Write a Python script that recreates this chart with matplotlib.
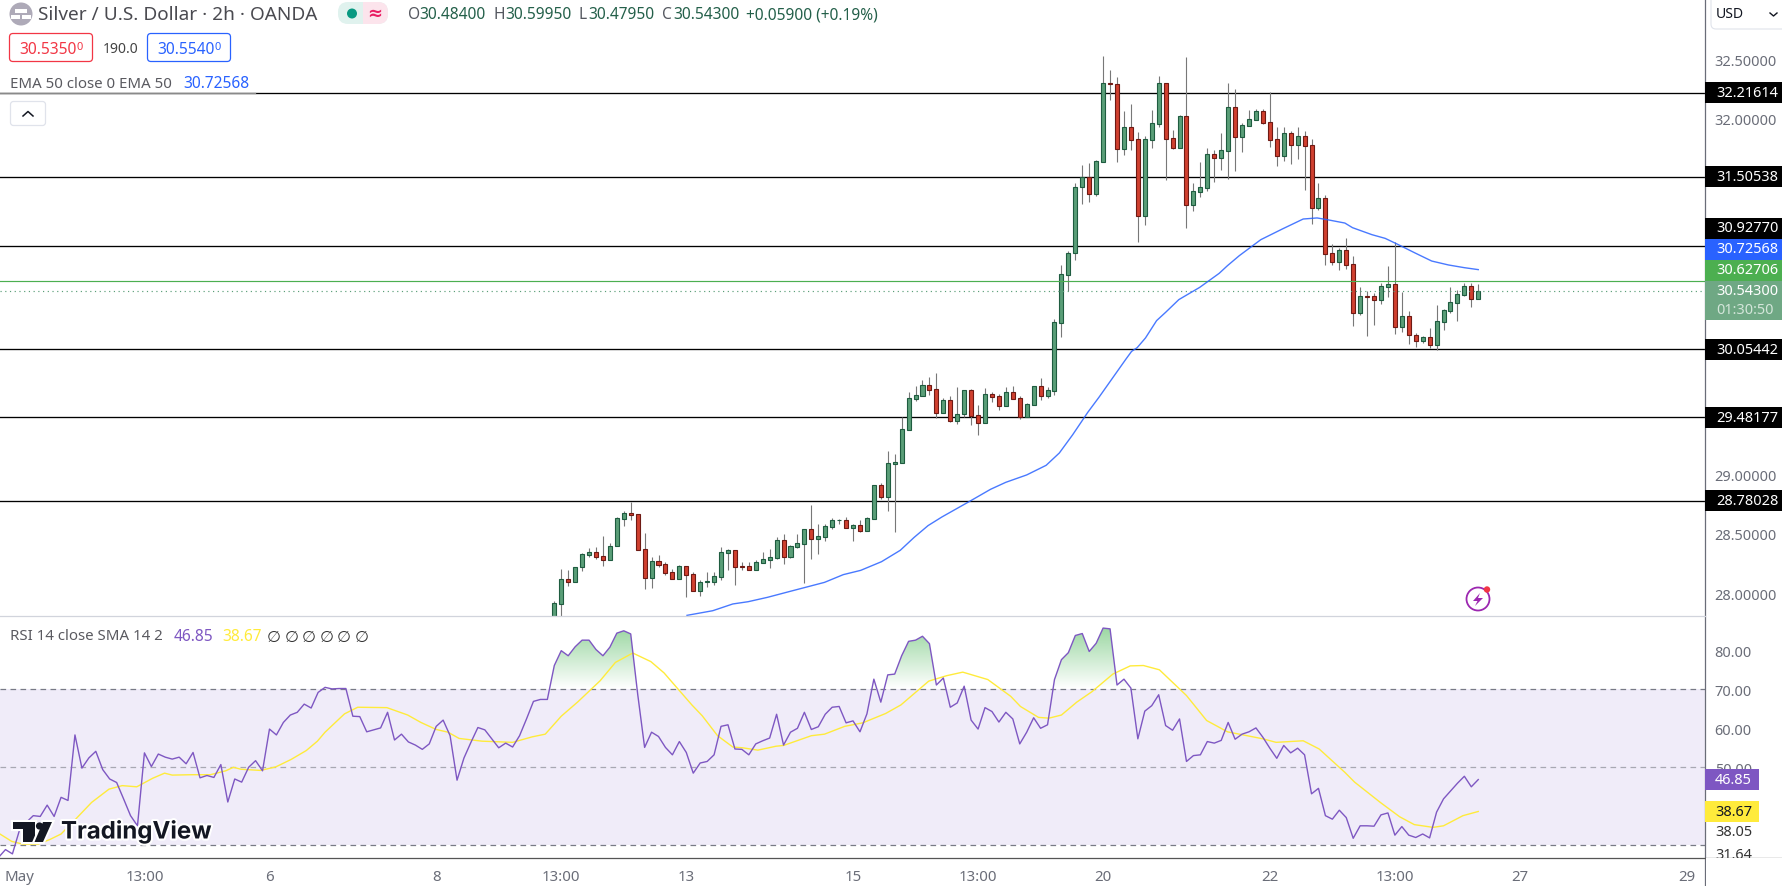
import numpy as np
import matplotlib
matplotlib.use("Agg")
import matplotlib.pyplot as plt
from matplotlib.patches import Rectangle, FancyBboxPatch, Circle, Polygon
from matplotlib.path import Path
import matplotlib.patheffects as pe

plt.rcParams['font.family'] = ['Noto Sans', 'DejaVu Sans']

# ---------- candles (2h bars) ----------
opens = [27.75,27.912,28.117,28.097,28.218,28.325,28.344,28.310,28.282,28.395,28.628,28.673,28.664,28.369,28.131,28.268,28.243,28.176,28.122,28.226,
 28.159,28.021,28.097,28.097,28.139,28.341,28.361,28.226,28.226,28.198,28.257,28.282,28.299,28.445,28.308,28.392,28.417,28.538,28.459,28.476,
 28.560,28.614,28.614,28.552,28.572,28.527,28.628,28.909,28.813,29.091,29.099,29.377,29.639,29.664,29.751,29.717,29.521,29.625,29.453,29.507,
 29.709,29.498,29.436,29.675,29.658,29.580,29.692,29.641,29.484,29.588,29.742,29.664,29.706,30.279,30.683,30.863,31.419,31.506,31.366,31.635,
 32.295,32.287,31.745,31.924,31.823,31.180,31.821,31.955,32.295,31.832,31.753,32.017,31.273,31.382,31.416,31.697,31.669,31.728,32.093,31.846,
 31.938,31.989,32.059,31.966,31.823,31.686,31.874,31.778,31.849,31.773,31.248,31.326,30.863,30.793,30.888,30.770,30.363,30.504,30.501,30.473,
 30.582,30.602,30.245,30.332,30.172,30.127,30.155,30.094,30.287,30.380,30.447,30.515,30.585,30.481]
closes = [27.915,28.117,28.097,28.218,28.327,28.344,28.308,28.282,28.395,28.631,28.673,28.661,28.367,28.131,28.268,28.240,28.173,28.122,28.226,28.156,
 28.021,28.091,28.100,28.142,28.344,28.361,28.223,28.223,28.198,28.260,28.285,28.302,28.445,28.308,28.395,28.420,28.538,28.459,28.479,28.563,
 28.614,28.616,28.552,28.572,28.527,28.631,28.909,28.813,29.094,29.102,29.380,29.641,29.667,29.751,29.714,29.521,29.625,29.453,29.507,29.709,
 29.495,29.436,29.675,29.655,29.580,29.692,29.639,29.484,29.591,29.742,29.664,29.709,30.282,30.686,30.863,31.419,31.506,31.366,31.638,32.295,
 32.292,31.745,31.924,31.821,31.180,31.823,31.958,32.295,31.829,31.753,32.017,31.273,31.385,31.419,31.697,31.669,31.731,32.093,31.846,31.941,
 31.992,32.059,31.964,31.821,31.686,31.874,31.778,31.849,31.770,31.248,31.326,30.860,30.793,30.888,30.768,30.363,30.501,30.498,30.473,30.585,
 30.602,30.245,30.332,30.172,30.127,30.155,30.094,30.290,30.383,30.450,30.518,30.585,30.481,30.543]
highs = [27.931,28.204,28.195,28.218,28.339,28.378,28.389,28.482,28.420,28.639,28.689,28.771,28.664,28.507,28.302,28.322,28.260,28.204,28.237,28.226,
 28.176,28.111,28.176,28.176,28.389,28.369,28.361,28.260,28.260,28.277,28.347,28.372,28.473,28.499,28.406,28.499,28.538,28.743,28.583,28.583,
 28.633,28.625,28.642,28.583,28.616,28.639,28.909,28.925,29.198,29.170,29.481,29.692,29.745,29.793,29.818,29.855,29.641,29.661,29.737,29.714,
 29.720,29.585,29.728,29.692,29.681,29.737,29.745,29.658,29.599,29.742,29.813,29.734,30.310,30.765,30.883,31.453,31.607,31.624,31.649,32.525,
 32.407,32.348,32.062,32.121,31.885,31.851,32.070,32.357,32.295,31.902,32.028,32.517,31.456,31.632,31.750,31.733,31.877,32.298,32.247,31.958,
 32.070,32.079,32.079,32.219,31.924,31.924,31.891,31.924,31.893,31.826,31.456,31.354,30.942,30.905,30.992,30.838,30.579,30.546,30.529,30.613,
 30.756,30.956,30.537,30.377,30.192,30.164,30.234,30.428,30.394,30.579,30.551,30.613,30.613,30.605]
lows = [27.72,27.78,28.061,28.097,28.190,28.308,28.291,28.229,28.282,28.395,28.569,28.616,28.367,28.035,28.044,28.223,28.153,28.122,28.122,27.968,
 28.021,27.979,28.052,28.069,28.111,28.195,28.069,28.198,28.198,28.198,28.257,28.212,28.288,28.246,28.296,28.381,28.086,28.288,28.330,28.442,
 28.541,28.586,28.546,28.440,28.518,28.527,28.628,28.793,28.692,28.515,29.099,29.377,29.622,29.664,29.670,29.479,29.521,29.445,29.428,29.481,
 29.417,29.335,29.436,29.611,29.543,29.580,29.639,29.470,29.484,29.588,29.627,29.644,29.670,30.161,30.543,30.810,31.279,31.295,31.349,31.635,
 32.155,31.632,31.691,31.733,30.961,31.102,31.750,31.927,31.484,31.745,31.753,31.079,31.220,31.338,31.388,31.464,31.565,31.489,31.557,31.717,
 31.938,31.989,31.952,31.759,31.599,31.641,31.616,31.658,31.397,31.110,31.228,30.765,30.765,30.723,30.731,30.251,30.344,30.167,30.259,30.436,
 30.495,30.183,30.197,30.099,30.074,30.110,30.066,30.052,30.217,30.363,30.293,30.506,30.411,30.481]

# ---------- EMA 50 (bar position, value) ----------
ema_bar = [19.1,22.8,25.7,27.9,30.7,34,38.9,41.6,44.1,47.1,49.8,51.8,53.8,55.8,59.8,62.8,65,68,70.8,72.7,74.6,76.8,78.4,
 82.3,83.1,83.9,85.1,86.7,88,89.9,92.9,95.7,96.9,98.6,101.7,104.8,107.8,109.8,111.2,113.8,114.9,117.7,119.6,121.5,123.9,126.3,128.7,131,133]
ema_val = [27.813,27.852,27.909,27.928,27.965,28.016,28.091,28.156,28.192,28.265,28.361,28.470,28.569,28.642,28.774,28.875,28.934,28.996,29.077,29.181,29.333,29.524,29.650,
 29.973,30.037,30.068,30.150,30.296,30.366,30.473,30.576,30.694,30.759,30.843,30.978,31.068,31.152,31.161,31.147,31.118,31.079,31.020,30.989,30.936,30.866,30.798,30.765,30.742,30.72568]

# ---------- RSI 14, first value is 80 bars before the first candle ----------
rsi_first_bar = -80
rsi = [26.9,28.9,27.8,33.8,35.9,37.6,37.4,40.3,37.4,42.3,41.5,58.3,49.8,52.4,54.1,49.4,47.0,46.1,41.9,37.6,
 35.0,53.7,50.2,53.4,52.6,52.1,52.6,50.9,53.8,47.3,47.9,47.4,50.7,41.1,47.0,46.2,50.0,51.7,49.1,59.8,
 58.3,61.5,63.4,64.1,66.2,65.2,69.2,70.5,70.1,70.2,70.2,63.1,63.0,59.1,59.6,60.1,64.1,57.0,58.5,56.5,
 55.7,54.6,56.0,60.5,62.1,58.1,46.7,52.4,56.4,60.2,59.6,57.3,55.0,56.2,55.2,58.1,62.4,66.9,67.4,67.4,
 76.1,79.9,78.6,80.9,82.6,82.6,80.2,78.6,80.8,84.4,85.0,84.2,68.8,55.1,59.0,57.9,55.1,53.2,56.6,53.8,
 48.5,51.1,51.5,53.2,60.5,60.9,54.7,54.6,53.2,56.0,56.8,57.5,63.6,55.7,59.0,60.0,64.1,59.7,60.4,63.6,
 65.4,65.6,61.4,61.9,59.1,63.7,72.6,66.7,73.7,73.9,78.6,82.3,82.6,83.6,81.7,71.1,72.9,65.4,66.5,70.8,
 62.1,59.8,65.3,64.3,61.6,64.1,62.4,56.0,59.0,62.7,60.0,60.9,72.5,77.6,79.4,83.8,84.3,79.7,81.8,85.7,
 85.5,71.1,72.6,70.3,57.3,64.4,65.8,68.6,60.7,59.5,62.4,51.5,53.0,53.2,56.6,56.2,56.9,61.5,57.2,58.5,
 59.1,60.1,57.7,54.9,52.3,55.6,53.7,54.9,53.2,43.2,44.6,37.6,36.7,39.0,37.1,31.8,35.0,35.0,34.9,37.8,
 38.3,32.6,34.8,32.6,32.0,32.9,31.9,38.5,41.9,43.9,45.9,47.7,45.0,46.85]

sma_pos = [0.2,1.9,3.5,5.7,7.4,9,11.2,13.4,15.9,17.8,19.9,22.2,23.9,25,27.8,30.5,32.7,33.8,34.9,37.7,39.9,42.1,44.3,45.9,47,49.8,51.7,55.9,58.9,60.8,63,64.7,66.3,69.6,74,76.8,78.7,81,83.4,
 86.6,88.8,91.3,93.9,95.8,97.6,99.8,101.3,103.5,105.7,107.1,109.3,111.9,113,117,118.9,121.8,124.4,127.7,129.9,133.9,136.5,138.8,142.4,145.7,147.1,149.7,151.2,153,155.2,157.4,160.4,162.9,164.8,167.1,171,173.9,176.9,182,183.9,187.8,190.1,193.8,195.2,198.9,201.7,
 203.8,206.5,208,210.8,213]
sma_val = [32.9,31.0,30.3,30.3,31.5,32.9,36.9,41.0,44.4,45.3,45.0,47.2,48.5,48.0,48.1,48.1,49.1,50.0,49.5,49.2,50.1,52.0,54.3,56.7,59.0,63.7,65.4,65.3,63.4,61.5,59.7,59.0,57.4,56.7,56.4,57.8,58.5,63.1,66.8,
 72.2,76.9,79.3,77.1,74.2,70.5,66.0,63.2,58.1,55.2,55.0,54.4,55.4,55.6,58.1,58.5,60.5,61.4,63.8,66.0,72.1,73.5,74.4,72.5,68.2,65.6,62.8,62.6,63.4,66.7,69.4,73.9,76.0,76.1,75.0,68.4,62.0,59.1,57.3,56.4,56.8,54.7,48.7,46.2,41.0,37.3,
 35.3,34.6,35.0,37.6,38.67]

# ---------- levels, ticks, labels ----------
levels = [32.21614, 31.50538, 30.92770, 30.05442, 29.48177, 28.78028]
level_labels = ['32.21614', '31.50538', '30.92770', '30.05442', '29.48177', '28.78028']
ma_now = 30.72568
green_level = 30.62706
last_close = 30.54300
price_ticks = [28.0, 28.5, 29.0, 32.0, 32.5]
rsi_ticks = [80, 70, 60, 50]
rsi_bands = [70, 50, 30]
x_ticks = [-77, -59, -41, -17, 1, 19, 43, 61, 79, 103, 121, 139, 163]
x_labels = ['May', '13:00', '6', '8', '13:00', '13', '15', '13:00', '20', '22', '13:00', '27', '29']

W, H = 1783, 887
PLOT_R, SPLIT, BOTTOM = 1705, 616.5, 859
X0 = 554.3; DX = 6.947
def px(p):  # font px to pt at dpi 100
    return p * 0.72

fig = plt.figure(figsize=(W/100, H/100), dpi=100, facecolor='white')
ax = fig.add_axes([0, 1-SPLIT/H, PLOT_R/W, SPLIT/H])
ar = fig.add_axes([0, 1-BOTTOM/H, PLOT_R/W, (BOTTOM-SPLIT)/H])
xlim = ((0-X0)/DX, (PLOT_R-X0)/DX)
for a in (ax, ar):
    a.set_xlim(*xlim)
    for s in a.spines.values():
        s.set_visible(False)
ax.set_ylim(32.21614-(SPLIT-93.7)/118.7, 32.21614+93.7/118.7)
ar.set_ylim(70-(BOTTOM-690.3)/3.9, 70+(690.3-SPLIT)/3.9)

# candles
o, c, h, l = map(np.array, (opens, closes, highs, lows))
bars = np.arange(len(o))
up = c >= o
UPF, UPE, DNF, DNE = '#5a9e78', '#1f5c40', '#d0402f', '#6e1a14'
ax.vlines(bars, l, h, color='#787878', lw=0.8, zorder=3)
ax.bar(bars[up], (c-o)[up], bottom=o[up], width=0.58, color=UPF, edgecolor=UPE, lw=0.8, zorder=4)
ax.bar(bars[~up], (o-c)[~up], bottom=c[~up], width=0.58, color=DNF, edgecolor=DNE, lw=0.8, zorder=4)

# levels
for v in levels:
    ax.axhline(v, color='black', lw=0.95, zorder=2)
ax.axhline(green_level, color='#4caf50', lw=0.85, zorder=5)
ax.axhline(last_close, color='#5a9e78', lw=0.85, ls=(0, (1, 3)), zorder=5)
ax.plot(ema_bar, ema_val, color='#2962ff', lw=1.0, alpha=0.85, zorder=6)

# price axis
ax.yaxis.tick_right()
ax.set_yticks(price_ticks)
ax.set_yticklabels([f'{t:.5f}' for t in price_ticks], fontsize=px(14.5), color='#6a6d78')
ax.tick_params(axis='y', length=0, pad=7)
ax.set_xticks([])

# RSI pane
rx = np.arange(len(rsi)) + rsi_first_bar
rv = np.array(rsi)
ar.axhspan(rsi_bands[2], rsi_bands[0], color='#f0ecf9', lw=0, zorder=0)
for v in rsi_bands:
    ar.axhline(v, color='#787b86' if v != 50 else '#a8a8b2', lw=0.9, ls=(0, (4.5, 3.5)), zorder=1)
grad = np.ones((64, 1, 4))
grad[..., 0] = 0.60; grad[..., 1] = 0.84; grad[..., 2] = 0.63
grad[:, 0, 3] = np.linspace(0, 1, 64)
poly = ar.fill_between(rx, 70, rv, where=rv > 70, interpolate=True, alpha=0)
clip = Path.make_compound_path(*poly.get_paths())
im = ar.imshow(grad, extent=(xlim[0], xlim[1], 70, 86), origin='lower', aspect='auto', zorder=1, interpolation='bilinear')
im.set_clip_path(clip, ar.transData)
ar.set_xlim(*xlim)
ar.set_ylim(70-(BOTTOM-690.3)/3.9, 70+(690.3-SPLIT)/3.9)
ar.plot(rx, rv, color='#7e57c2', lw=1.0, zorder=3)
ar.plot(np.array(sma_pos)+rsi_first_bar, sma_val, color='#ffeb3b', lw=1.0, zorder=2.5)
ar.yaxis.tick_right()
ar.set_yticks(rsi_ticks)
ar.set_yticklabels([f'{t:.2f}' for t in rsi_ticks], fontsize=px(14.5), color='#6a6d78')
ar.tick_params(axis='y', length=0, pad=7)
ar.set_xticks(x_ticks)
ar.set_xticklabels(x_labels, fontsize=px(15), color='#6a6d78')
ar.tick_params(axis='x', length=0, pad=8)
ar.get_xticklabels()[0].set_fontweight('bold')

# overlay in pixel coordinates: TradingView interface items
ov = fig.add_axes([0, 0, 1, 1], zorder=20)
ov.set_xlim(0, W); ov.set_ylim(H, 0); ov.axis('off'); ov.patch.set_alpha(0)

ov.plot([PLOT_R, PLOT_R], [0, H], color='#6a6d78', lw=0.9)
ov.plot([0, W], [BOTTOM, BOTTOM], color='#555555', lw=0.9)
ov.plot([0, PLOT_R], [SPLIT, SPLIT], color='#d1d4dc', lw=0.9)
ov.plot([0, 255], [93.7, 93.7], color='#8a8a8a', lw=0.95)

def ybox(y0, y1, color, x0=PLOT_R+0.5, x1=W):
    ov.add_patch(Rectangle((x0, y0), x1-x0, y1-y0, color=color, lw=0, zorder=5))

def ytext(y, s, color='white', fw='bold', x=1716, size=14.5):
    ov.text(x, y, s, color=color, fontsize=px(size), fontweight=fw, va='center', ha='left', zorder=6)

for y, s in zip([93.7, 177.5, 229, 350.5, 418.5, 501.5], level_labels):
    ybox(y-10.5, y+10.5, 'black')
    ytext(y, s)
ybox(240, 260.5, '#2962ff'); ytext(250, f'{ma_now:.5f}')
ybox(260.5, 281.5, '#4caf50'); ytext(271, f'{green_level:.5f}')
ybox(281.5, 321, '#6fa884'); ytext(292, f'{last_close:.5f}', fw='normal')
ytext(311, '01:30:50', color='#d4e6da', fw='normal')
ybox(770, 791, '#7e57c2', x1=1759); ytext(780.5, '46.85', x=1715)
ybox(802, 823, '#ffeb3b', x1=1759); ytext(812.5, '38.67', color='#131722', fw='normal', x=1715)
ytext(833, '38.05', color='#333333', fw='normal', x=1715)
ov.text(1715, 856, '31.64', color='#333333', fontsize=px(14.5), va='center', clip_on=True)
ov.add_patch(Rectangle((1706, 859.5), 77, 28, color='white', lw=0, zorder=4))

# USD selector
ov.add_patch(FancyBboxPatch((1711, -6), 80, 36, boxstyle='round,pad=0,rounding_size=5', fc='white', ec='#e0e3eb', lw=0.8, zorder=5))
ov.text(1716, 15, 'USD', fontsize=px(14), color='#131722', va='center', zorder=6)
ov.plot([1770, 1773.5, 1777], [14, 17, 14], color='#131722', lw=1, zorder=6)

# header
ov.add_patch(Circle((21, 15), 11.5, color='#aeaab8', lw=0))
ov.add_patch(Rectangle((15, 10), 12, 3.5, color='white', lw=0))
ov.add_patch(Rectangle((11, 16), 9, 4, color='white', lw=0))
ov.add_patch(Rectangle((22, 16), 9, 4, color='white', lw=0))
ov.text(38, 15, 'Silver / U.S. Dollar · 2h · OANDA', fontsize=px(19), color='#4a4a50', va='center')
ov.add_patch(FancyBboxPatch((338, 3), 50, 22, boxstyle='round,pad=0,rounding_size=10', fc='#e0f2ee', ec='none'))
pk = FancyBboxPatch((338, 3), 50, 22, boxstyle='round,pad=0,rounding_size=10', fc='#fce4ec', ec='none')
ov.add_patch(pk)
pk.set_clip_path(Rectangle((363, 0), 30, 30, transform=ov.transData))
ov.add_patch(Circle((352, 14.5), 5, color='#089981', lw=0))
ov.text(375, 14, '≈', fontsize=px(18), color='#e91e63', va='center', ha='center', fontweight='bold')

ohlc_x = [408, 494, 579, 662]
for x, lab, val in zip(ohlc_x, 'OHLC', ['30.48400', '30.59950', '30.47950', '30.54300']):
    ov.text(x, 15, lab, fontsize=px(15.5), color='#555860', va='center')
    ov.text(x+11.5 if lab != 'L' else x+9, 15, val, fontsize=px(15.5), color='#24604a', va='center')
ov.text(746, 15, '+0.05900 (+0.19%)', fontsize=px(15.5), color='#24604a', va='center')

# bid/ask
ov.add_patch(FancyBboxPatch((9.5, 34.5), 83, 28, boxstyle='round,pad=0,rounding_size=3.5', fc='white', ec='#f23645', lw=0.9))
ov.text(19, 49.5, '30.5350', fontsize=px(15.5), color='#f23645', va='center')
ov.text(76.5, 47, '0', fontsize=px(11), color='#f23645', va='center', ha='left')
ov.text(103, 49.5, '190.0', fontsize=px(14), color='#444444', va='center')
ov.add_patch(FancyBboxPatch((147.5, 34.5), 83, 28, boxstyle='round,pad=0,rounding_size=3.5', fc='white', ec='#2962ff', lw=0.9))
ov.text(157, 49.5, '30.5540', fontsize=px(15.5), color='#2962ff', va='center')
ov.text(214.5, 47, '0', fontsize=px(11), color='#2962ff', va='center', ha='left')

# EMA legend
ov.text(10, 84.5, 'EMA 50 close 0 EMA 50', fontsize=px(15), color='#5a5a60', va='center')
ov.text(183, 84.5, f'{ma_now:.5f}', fontsize=px(15.5), color='#2962ff', va='center')

# collapse button
ov.add_patch(FancyBboxPatch((10.5, 102.5), 35, 24, boxstyle='round,pad=0,rounding_size=3', fc='white', ec='#e0e3eb', lw=0.9))
ov.plot([23, 28, 33], [117, 112.5, 117], color='#131722', lw=1.1)

# RSI legend
ov.text(10, 637, 'RSI 14 close SMA 14 2', fontsize=px(15), color='#5a5a60', va='center')
ov.text(174, 637, '46.85', fontsize=px(15.5), color='#7e57c2', va='center')
ov.text(222, 637, '38.67', fontsize=px(15.5), color='#ffeb3b', va='center')
for x in [274, 291.6, 309, 327, 344, 361.6]:
    ov.text(x, 637, '∅', fontsize=px(16), color='#333333', va='center', ha='center', family='DejaVu Sans')

# logo
halo = [pe.withStroke(linewidth=3, foreground='white')]
LOGO = '#131722'
for pts in ([(13, 823), (35, 823), (35, 843), (23, 843), (23, 830), (13, 830)],
            [(43, 823), (52, 823), (43, 843), (34.5, 843)]):
    g = Polygon(pts, closed=True, color=LOGO, lw=0)
    ov.add_patch(g); g.set_path_effects(halo)
g = Circle((39.5, 827), 3.6, color=LOGO, lw=0); ov.add_patch(g)
ov.text(61, 833, 'TradingView', fontsize=px(24), color=LOGO, fontweight='bold', family='Inter', va='center',
        path_effects=halo)

# flash icon
ov.add_patch(Circle((1478, 600), 11.5, fc='white', ec='#9c27b0', lw=1.3))
ov.add_patch(Polygon([(1480, 594), (1473, 602), (1477.5, 602), (1475, 607), (1483, 599), (1478, 599)], closed=True, color='#9c27b0', lw=0))
ov.add_patch(Circle((1487, 590.5), 3.2, color='#f23645', lw=0))

# settings icon
ang = np.deg2rad(np.arange(0, 360, 60))
ov.add_patch(Polygon(np.c_[1747+9*np.cos(ang), 877+9*np.sin(ang)], closed=True, fc='white', ec='#2a2e39', lw=0.9))
ov.add_patch(Circle((1747, 877), 2.5, fc='white', ec='#2a2e39', lw=0.9))

fig.savefig('out.png', dpi=100)
